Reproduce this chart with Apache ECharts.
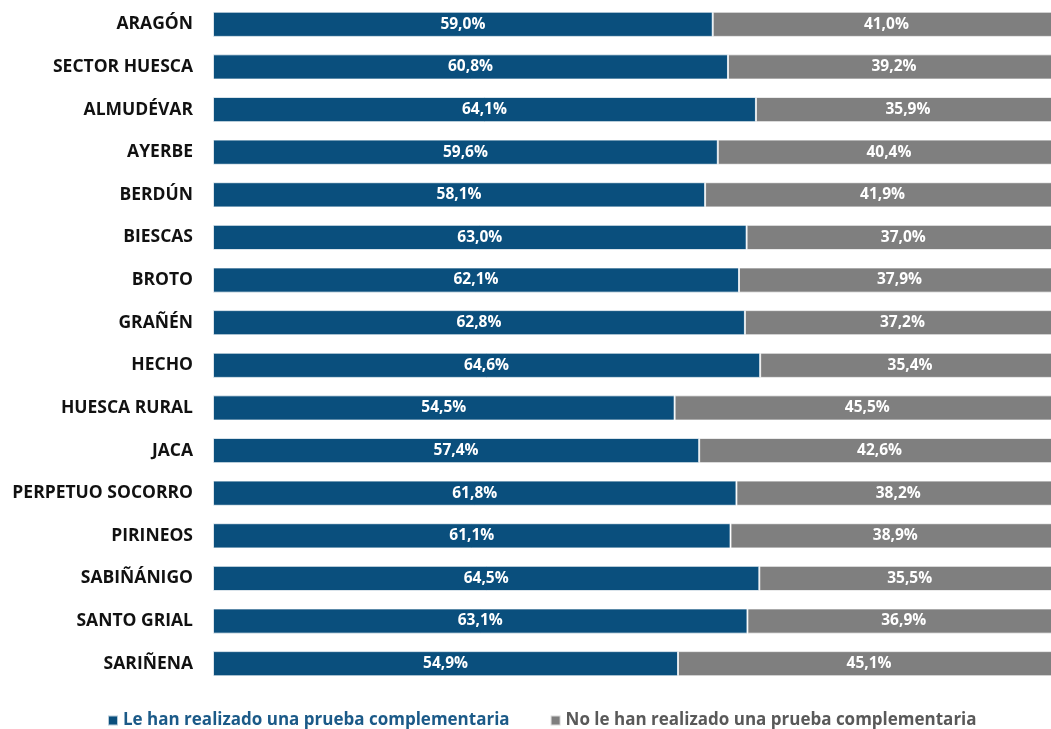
<!DOCTYPE html>
<html>
<head>
<meta charset="utf-8">
<script src="https://cdn.jsdelivr.net/npm/echarts@6/dist/echarts.min.js"></script>
<style>
  html, body { margin: 0; padding: 0; background: #fff; overflow: hidden; }
  #chart { width: 1051px; height: 729px; }
</style>
</head>
<body>
<div id="chart"></div>
<script>
// Zonas de salud (de arriba a abajo)
const zonas = [
  'ARAGÓN', 'SECTOR HUESCA', 'ALMUDÉVAR', 'AYERBE', 'BERDÚN', 'BIESCAS',
  'BROTO', 'GRAÑÉN', 'HECHO', 'HUESCA RURAL', 'JACA', 'PERPETUO SOCORRO',
  'PIRINEOS', 'SABIÑÁNIGO', 'SANTO GRIAL', 'SARIÑENA'
];
// Porcentaje con prueba complementaria realizada
const realizada = [59.0, 60.8, 64.1, 59.6, 58.1, 63.0, 62.1, 62.8, 64.6, 54.5, 57.4, 61.8, 61.1, 64.5, 63.1, 54.9];
// Porcentaje sin prueba complementaria
const noRealizada = [41.0, 39.2, 35.9, 40.4, 41.9, 37.0, 37.9, 37.2, 35.4, 45.5, 42.6, 38.2, 38.9, 35.5, 36.9, 45.1];

const nombres = ['Le han realizado una prueba complementaria', 'No le han realizado una prueba complementaria'];
const FONT = '"Open Sans", Lato, sans-serif';

const fmt = p => p.value.toFixed(1).replace('.', ',') + '%';

// The 100 % end of each bar runs slightly past the right edge of the canvas
const GRID_LEFT = 213;
const FULL_WIDTH = 847;
const visibleWidth = 1051 - GRID_LEFT;
const xMax = 100 * visibleWidth / FULL_WIDTH;

const legendText = (color) => ({ color, fontFamily: FONT, fontWeight: 'bold', fontSize: 17 });

const chart = echarts.init(document.getElementById('chart'));
chart.setOption({
  animation: false,
  grid: { left: GRID_LEFT, right: 0, top: 3, bottom: 44, containLabel: false },
  xAxis: {
    type: 'value', min: 0, max: xMax,
    show: false
  },
  yAxis: {
    type: 'category',
    data: zonas,
    inverse: true,
    axisLine: { show: false },
    axisTick: { show: false },
    axisLabel: {
      color: '#111', fontFamily: FONT, fontWeight: 'bold', fontSize: 17.5, margin: 20
    }
  },
  legend: {
    top: 707,
    left: 102,
    itemGap: 40,
    itemWidth: 10,
    itemHeight: 10,
    icon: 'rect',
    textStyle: legendText('#333'),
    data: [
      { name: nombres[0], textStyle: legendText('#1B5A88') },
      { name: nombres[1], textStyle: legendText('#595959') }
    ]
  },
  series: [
    {
      name: nombres[0], type: 'bar', stack: 'total',
      data: realizada,
      clip: false,
      barCategoryGap: '41%',
      itemStyle: { color: '#0A4F7D', borderColor: 'rgba(255,255,255,0.7)', borderWidth: 1 },
      label: { show: true, position: 'inside', formatter: fmt, color: '#fff', fontFamily: FONT, fontWeight: 'bold', fontSize: 15.5 }
    },
    {
      name: nombres[1], type: 'bar', stack: 'total',
      data: noRealizada,
      clip: false,
      barCategoryGap: '41%',
      itemStyle: { color: '#7F7F7F', borderColor: 'rgba(255,255,255,0.7)', borderWidth: 1 },
      label: { show: true, position: 'inside', formatter: fmt, color: '#fff', fontFamily: FONT, fontWeight: 'bold', fontSize: 15.5 }
    }
  ]
});
</script>
</body>
</html>
